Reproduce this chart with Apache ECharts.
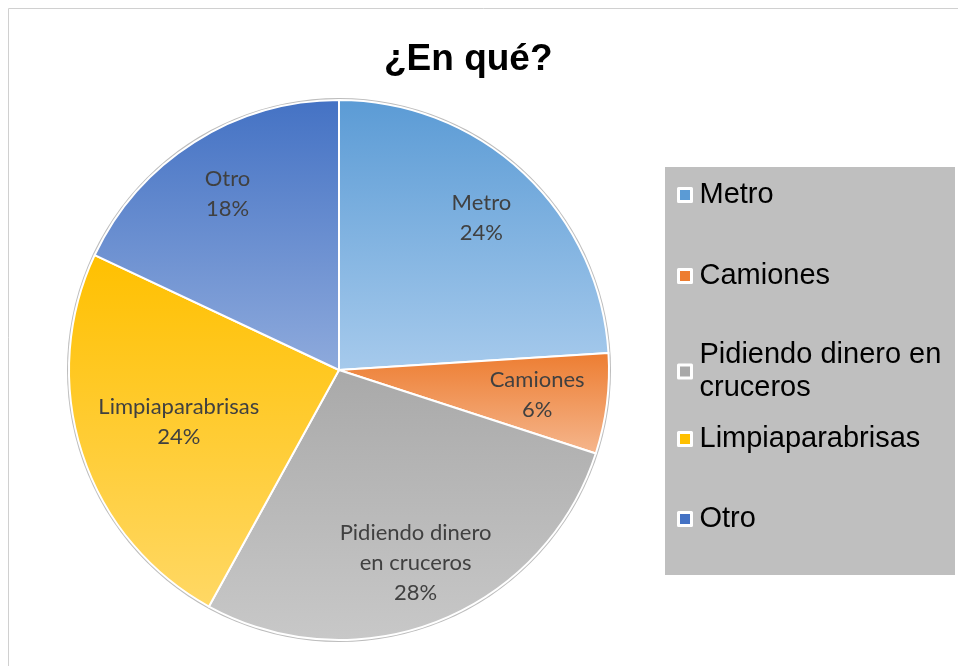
<!DOCTYPE html>
<html>
<head>
<meta charset="utf-8">
<title>¿En qué?</title>
<script src="https://cdn.jsdelivr.net/npm/echarts@6/dist/echarts.min.js"></script>
<style>
  html, body { margin: 0; padding: 0; background: #fff; }
  #chart { width: 958px; height: 666px; }
</style>
</head>
<body>
<div id="chart"></div>
<script>
// datos
const categories = ['Metro', 'Camiones', 'Pidiendo dinero en cruceros', 'Limpiaparabrisas', 'Otro'];
const values = [24, 6, 28, 24, 18];

// colores (tono base arriba, tono claro abajo)
const baseColors = ['#5b9bd5', '#ed7d31', '#a9a9a9', '#ffc000', '#4472c4'];
const lightColors = ['#a6caec', '#f5b68d', '#c8c8c8', '#ffd865', '#8eaadc'];

const center = [339, 370];
const R = 270;

const chart = echarts.init(document.getElementById('chart'));

const pieData = categories.map((name, i) => ({
  name: name,
  value: values[i],
  itemStyle: {
    color: new echarts.graphic.LinearGradient(0, 0, 0, 1, [
      { offset: 0, color: baseColors[i] },
      { offset: 1, color: lightColors[i] }
    ])
  }
}));

const labelData = categories.map((name, i) => ({ name: name, value: values[i] }));

// corta el nombre en lineas de hasta 16 letras
function wrapName (name) {
  const lines = []
  let line = ''
  name.split(' ').forEach(w => {
    if (line && (line + ' ' + w).length > 16) {
      lines.push(line)
      line = w
    } else {
      line = line ? line + ' ' + w : w
    }
  })
  lines.push(line)
  return lines.join('\n')
}

// mete la etiqueta hacia el centro si se sale del circulo (como "ajuste perfecto")
function fitLabel (p) {
  const r = p.labelRect
  const lx = r.x + r.width / 2
  const ly = r.y + r.height / 2
  const dx = lx - center[0]
  const dy = ly - center[1]
  const limit = R - 22
  const inside = k => {
    const cx = center[0] + dx * k
    const cy = center[1] + dy * k
    return [cx - r.width / 2, cx + r.width / 2].every(x => {
      const ex = x - center[0]
      const ey = cy - center[1]
      return Math.sqrt(ex * ex + ey * ey) <= limit
    })
  }
  let k = 1
  while (k > 0.3 && !inside(k)) k -= 0.01
  return { x: center[0] + dx * k, y: center[1] + dy * k }
}

const legendText = {
  fontFamily: 'Liberation Sans',
  fontSize: 29,
  color: '#000',
  lineHeight: 33,
  width: 252,
  overflow: 'break',
  padding: [0, 0, 0, 3]
}

function legendItem (i) {
  const item = {
    name: categories[i],
    icon: 'rect',
    itemStyle: { color: baseColors[i], borderColor: '#fff', borderWidth: 3 }
  }
  // el texto de dos lineas se alinea con la primera linea
  if (i === 2) {
    item.textStyle = { verticalAlign: 'top', padding: [-16.5, 0, 0, 3] }
  }
  return item
}

const legendCommon = {
  orient: 'vertical',
  left: 677,
  padding: 0,
  itemWidth: 13,
  itemHeight: 13,
  selectedMode: false,
  textStyle: legendText
}

chart.setOption({
  animation: false,
  title: {
    text: '¿En qué?',
    left: 379,
    top: 36,
    textStyle: {
      fontFamily: 'Liberation Sans',
      fontWeight: 'bold',
      fontSize: 37,
      color: '#000'
    }
  },
  graphic: [
    {
      type: 'rect',
      z: -10,
      shape: { x: 8.5, y: 8.5, width: 1000, height: 700 },
      style: { fill: 'none', stroke: '#d0d0d0', lineWidth: 1 }
    },
    {
      type: 'rect',
      z: -10,
      shape: { x: 665, y: 167, width: 290, height: 408 },
      style: { fill: '#bfbfbf' }
    }
  ],
  legend: [
    Object.assign({}, legendCommon, {
      top: 178.5,
      itemGap: 48,
      data: [0, 1, 2].map(legendItem)
    }),
    Object.assign({}, legendCommon, {
      top: 422.5,
      itemGap: 47,
      data: [3, 4].map(legendItem)
    })
  ],
  series: [
    {
      // contorno gris exterior
      type: 'pie',
      center: center,
      radius: R + 2,
      silent: true,
      z: 1,
      label: { show: false },
      labelLine: { show: false },
      itemStyle: { color: '#bdbdbd', borderWidth: 0 },
      data: [{ name: '', value: 1 }]
    },
    {
      type: 'pie',
      center: center,
      radius: R,
      startAngle: 90,
      clockwise: true,
      z: 2,
      avoidLabelOverlap: false,
      label: { show: false },
      labelLine: { show: false },
      itemStyle: { borderColor: '#fff', borderWidth: 2, borderRadius: 0 },
      emphasis: { disabled: true },
      data: pieData
    },
    {
      // solo etiquetas
      type: 'pie',
      center: center,
      radius: [140, R],
      startAngle: 90,
      clockwise: true,
      z: 3,
      silent: true,
      avoidLabelOverlap: false,
      itemStyle: { color: 'rgba(0,0,0,0)', borderWidth: 0 },
      labelLine: { show: false },
      label: {
        show: true,
        position: 'inside',
        formatter: p => wrapName(p.name) + '\n' + p.percent + '%',
        fontFamily: 'Lato',
        fontSize: 22,
        lineHeight: 30,
        color: '#404040',
        align: 'center'
      },
      labelLayout: fitLabel,
      data: labelData
    }
  ]
})
</script>
</body>
</html>
